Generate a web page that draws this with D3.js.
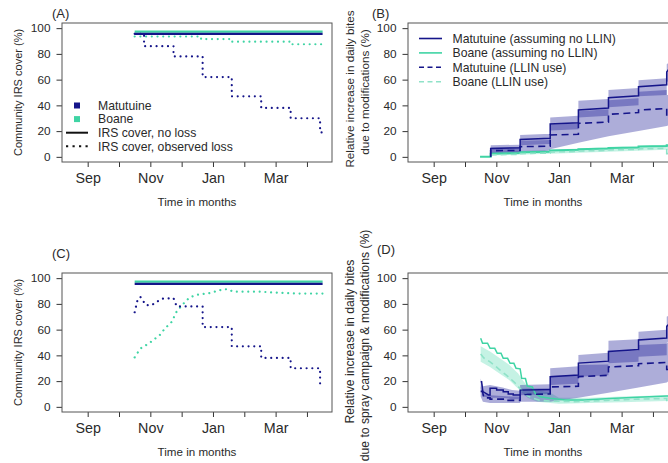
<!DOCTYPE html>
<html>
<head>
<meta charset="utf-8">
<script src="https://cdn.jsdelivr.net/npm/d3@7"></script>
<style>
  body { margin: 0; background: #fff; }
  svg { display: block; font-family: "Liberation Sans", Arial, sans-serif; }
</style>
</head>
<body>
<div id="chart"></div>
<script>
var width = 668,
  height = 463;

// time axis in months from September (0 = Sep, 7 = Apr)
var monthTicks = [0, 1, 2, 3, 4, 5, 6, 7];
var monthLabels = ["Sep", "", "Nov", "", "Jan", "", "Mar", ""];
var yTicks = [0, 20, 40, 60, 80, 100];

// (A) community IRS cover
var matNoLossA = [[1.5, 95.6], [7.5, 95.6]];
var boaNoLossA = [[1.5, 97.3], [7.5, 97.3]];
var matObsA = [[1.5, 95.6], [1.8, 95.6], [1.8, 86], [2.74, 86], [2.74, 78], [3.67, 78], [3.67, 62],
  [4.6, 62], [4.6, 47], [5.54, 47], [5.54, 38], [6.48, 38], [6.48, 30], [7.42, 30], [7.42, 19], [7.5, 19]];
var boaObsA = [[1.5, 93.5], [3.62, 93.5], [3.62, 91.5], [4.58, 91.5], [4.58, 89.5], [6.46, 89.5],
  [6.46, 87.5], [7.5, 87.5]];

// (C) community IRS cover incl. spray campaign
var matObsC = [[1.5, 73.5], [1.58, 82], [1.68, 85.5], [1.86, 79], [2.04, 79], [2.2, 81.5], [2.36, 84],
  [2.74, 84.5], [2.84, 78], [3.67, 78], [3.67, 62], [4.6, 62], [4.6, 47], [5.54, 47], [5.54, 38],
  [6.48, 38], [6.48, 30], [7.42, 30], [7.42, 18], [7.5, 18]];
var boaObsC = [[1.5, 38.5], [1.62, 43], [1.72, 46], [1.94, 49], [2.1, 52], [2.31, 56], [2.47, 61],
  [2.68, 66], [2.84, 74], [3.05, 80], [3.25, 85], [3.48, 87], [3.91, 88.5], [4.28, 91], [4.46, 91.5],
  [4.65, 89.5], [5.5, 89.5], [5.82, 89], [6.68, 88], [7.5, 88]];

// (B) relative increase in daily bites, modifications
var matNoLlinB = [[1.82, 0], [1.82, 6.5], [2.76, 7], [2.76, 13.5], [3.72, 14.5], [3.72, 25.5], [4.62, 26.5],
  [4.62, 36.4], [5.58, 38], [5.58, 46], [6.54, 47.5], [6.54, 54.5], [7.44, 56], [7.44, 66], [7.5, 68]];
var matLlinB = [[1.82, 0], [1.82, 4.8], [2.76, 5], [2.76, 7.9], [3.72, 8.3], [3.72, 17], [4.62, 17.5],
  [4.62, 26], [5.58, 27], [5.58, 33], [6.54, 34.5], [6.54, 36.4], [7.44, 37.5], [7.44, 31], [7.5, 31]];
var boaNoLlinB = [[1.48, 0], [1.82, 0], [1.82, 2.5], [2.76, 3], [2.76, 3.5], [3.72, 4], [3.72, 5],
  [4.62, 5.5], [4.62, 6], [5.58, 6.5], [5.58, 6.8], [6.54, 7.2], [6.54, 8], [7.44, 8.5], [7.44, 9], [7.5, 9]];
var boaLlinB = [[1.82, 1.5], [2.76, 2], [2.76, 2.5], [3.72, 3], [3.72, 3.8], [4.62, 4.2], [4.62, 4.6],
  [5.58, 5], [5.58, 5.4], [6.54, 5.8], [6.54, 6.2], [7.44, 6.6], [7.44, 2.5], [7.5, 2.5]];
// bands: [month, low, high]
var matNoLlinBandB = [[1.82, 3, 9], [2.76, 3.5, 9.5], [2.76, 9, 17], [3.72, 10, 18], [3.72, 20.5, 30.5],
  [4.62, 21.5, 32], [4.62, 30.5, 43.5], [5.58, 32, 45], [5.58, 38.5, 52], [6.54, 40, 53.5],
  [6.54, 47, 59.5], [7.44, 48, 61], [7.44, 58, 72], [7.5, 59, 73]];
var matLlinBandB = [[1.82, 2, 7], [2.76, 2.5, 7.5], [2.76, 3, 12.5], [3.72, 5, 13], [3.72, 6, 25],
  [4.62, 11, 26], [4.62, 11, 35.5], [5.58, 16, 37], [5.58, 16, 44], [6.54, 20, 45.5], [6.54, 20, 50.5],
  [7.44, 24, 52], [7.44, 24, 48], [7.5, 24.5, 48]];
var boaBandB = [[1.82, 1, 3.5], [3.72, 2.5, 5.5], [5.58, 4, 7.5], [7.44, 5.5, 9.5], [7.5, 5.5, 9.5]];

// (D) relative increase in daily bites, spray campaign & modifications
var matNoLlinD = [[1.5, 19.5], [1.53, 19.5], [1.57, 11.8], [1.75, 9.2], [1.8, 9.2], [1.8, 14.4], [2.01, 14.4],
  [2.01, 13.1], [2.22, 13.1], [2.22, 11.8], [2.38, 11.8], [2.38, 10], [2.54, 10], [2.54, 9.2], [2.76, 9.2],
  [2.76, 13], [3.72, 13.5], [3.72, 23.4], [4.62, 24.8], [4.62, 34], [5.58, 35.5], [5.58, 43],
  [6.54, 44.5], [6.54, 52], [7.44, 53.5], [7.44, 62.5], [7.5, 64]];
var matLlinD = [[1.5, 12], [1.56, 12], [1.6, 7], [1.8, 7], [1.8, 6], [2.3, 6], [2.3, 5], [2.76, 5],
  [2.76, 9.5], [3.72, 10], [3.72, 15.5], [4.62, 16], [4.62, 23.5], [5.58, 24.5], [5.58, 31], [6.54, 32],
  [6.54, 33.5], [7.44, 34.5], [7.44, 29], [7.5, 29]];
var boaNoLlinD = [[1.5, 53.3], [1.56, 49.4], [1.72, 49.4], [1.8, 45.5], [1.95, 45.5], [2.03, 41.6],
  [2.15, 41.6], [2.22, 37.7], [2.36, 37.7], [2.44, 33.8], [2.56, 33.8], [2.63, 30], [2.76, 29.5],
  [2.81, 22.2], [2.93, 22], [2.99, 16.2], [3.15, 15.5], [3.24, 10.5], [3.4, 7.9], [3.72, 6.6], [4.2, 5.3],
  [4.8, 5.3], [5.2, 6], [5.8, 6.6], [6.5, 7.5], [7.44, 8.4], [7.5, 8.4]];
var boaLlinD = [[1.5, 41], [1.6, 38], [1.8, 35], [2.0, 31], [2.12, 28.6], [2.3, 25], [2.44, 22.2],
  [2.6, 18.5], [2.7, 15.7], [2.86, 11.8], [3.0, 8.5], [3.2, 6.5], [3.4, 5], [3.72, 4.5], [4.5, 4],
  [5.5, 5], [6.5, 6], [7.44, 6.5], [7.44, 2.5], [7.5, 2.5]];
var matNoLlinBandD = [[1.5, 14, 22], [1.57, 8, 16], [1.8, 7, 17], [2.2, 7, 15], [2.5, 6, 13], [2.76, 6, 12.5],
  [2.76, 9, 17], [3.72, 10, 17.5], [3.72, 17, 30], [4.62, 18, 31.5], [4.62, 23.4, 40.3], [5.58, 24.5, 42],
  [5.58, 33.8, 51.4], [6.54, 35, 52.5], [6.54, 39, 58.4], [7.44, 40, 60], [7.44, 50, 70], [7.5, 51, 71]];
var matLlinBandD = [[1.5, 8, 16], [1.57, 4, 10], [1.8, 3, 9], [2.5, 3, 8], [2.76, 3, 8], [2.76, 4, 14],
  [3.72, 4, 14.5], [3.72, 4, 24], [4.62, 7, 24.5], [4.62, 7, 32.5], [5.58, 11, 33], [5.58, 11, 42.9],
  [6.54, 15, 43.5], [6.54, 15, 48], [7.44, 19, 49], [7.44, 19, 50], [7.5, 20, 50]];
var boaBandD = [[1.5, 35, 47], [1.8, 31, 43], [2.1, 26, 38], [2.4, 21, 33], [2.7, 14, 26], [2.86, 10, 20],
  [3.0, 7, 16], [3.3, 4, 13], [3.72, 3, 11], [4.0, 2.5, 7], [5, 3, 7], [6, 3.5, 8], [7.44, 4.5, 9], [7.5, 4.5, 9]];

var navy = "#15158a",
  teal = "#3fd4a4",
  tealLight = "#8fe2c8",
  ink = "#2a2a2a";

var svg = d3
  .select("#chart")
  .append("svg")
  .attr("width", width)
  .attr("height", height);

var boxW = 270,
  boxH = 139;

function makePanel(id, left, top, tag, tagPos, yLabel, yLabelX, yLabelY, yLabelSize) {
  var x = d3.scaleLinear().domain([-0.82, 7.8]).range([left, left + boxW]);
  var y = d3.scaleLinear().domain([-4, 104]).range([top + boxH, top]);

  svg.append("clipPath").attr("id", "clip" + id)
    .append("rect").attr("x", left).attr("y", top).attr("width", boxW).attr("height", boxH);

  var g = svg.append("g");
  var plot = g.append("g").attr("clip-path", "url(#clip" + id + ")");

  var yAxis = g.append("g")
    .attr("transform", "translate(" + left + ",0)")
    .call(d3.axisLeft(y).tickValues(yTicks).tickSize(5.5).tickPadding(6));
  yAxis.selectAll("text").style("font-size", "11.8px").attr("fill", ink);

  var xAxis = g.append("g")
    .attr("transform", "translate(0," + (top + boxH) + ")")
    .call(d3.axisBottom(x).tickValues(monthTicks).tickSize(5).tickFormat(function(d, i) {
      return monthLabels[i];
    }));
  xAxis.selectAll("text").attr("y", 21).attr("dy", null).style("font-size", "14.3px").attr("fill", ink);

  g.selectAll(".domain").remove();
  g.selectAll(".tick line").attr("stroke", "#333");

  g.append("rect")
    .attr("x", left).attr("y", top).attr("width", boxW).attr("height", boxH)
    .attr("fill", "none").attr("stroke", "#555").attr("stroke-width", 1);

  g.append("text")
    .attr("x", left + boxW / 2).attr("y", top + boxH + 44)
    .attr("text-anchor", "middle").style("font-size", "11.6px").attr("fill", ink)
    .text("Time in months");

  yLabel.forEach(function(txt, i) {
    g.append("text")
      .attr("transform", "translate(" + yLabelX[i] + "," + yLabelY[i] + ") rotate(-90)")
      .attr("text-anchor", "middle").style("font-size", yLabelSize + "px").attr("fill", ink)
      .text(txt);
  });

  g.append("text")
    .attr("x", tagPos[0]).attr("y", tagPos[1])
    .style("font-size", "13px").attr("fill", ink)
    .text(tag);

  return { x: x, y: y, plot: plot };
}

function drawLine(p, data, color, w, dash) {
  var ln = d3.line().x(d => p.x(d[0])).y(d => p.y(d[1]));
  var path = p.plot.append("path")
    .attr("d", ln(data))
    .attr("fill", "none")
    .attr("stroke", color)
    .attr("stroke-width", w);
  if (dash == "dot") {
    path.attr("stroke-dasharray", "0.01,5.7").attr("stroke-linecap", "round");
  } else if (dash) {
    path.attr("stroke-dasharray", dash);
  }
}

function drawBand(p, data, color, op) {
  var ar = d3.area().x(d => p.x(d[0])).y0(d => p.y(d[1])).y1(d => p.y(d[2]));
  p.plot.append("path").attr("d", ar(data)).attr("fill", color).attr("fill-opacity", op);
}

// panel A
var pA = makePanel("A", 62, 23, "(A)", [52, 17.5], ["Community IRS cover (%)"], [22], [92.5], 11);
drawLine(pA, boaNoLossA, teal, 2.3);
drawLine(pA, matNoLossA, navy, 2.3);
drawLine(pA, boaObsA, teal, 2.2, "dot");
drawLine(pA, matObsA, navy, 2.2, "dot");

// legend A
var legA = svg.append("g").style("font-size", "12.2px").attr("fill", ink);
var legAItems = ["Matutuine", "Boane", "IRS cover, no loss", "IRS cover, observed loss"];
legAItems.forEach(function(txt, i) {
  var yy = 105.5 + i * 13.6;
  if (i < 2) {
    legA.append("rect").attr("x", 74).attr("y", yy - 3).attr("width", 6).attr("height", 6)
      .attr("fill", i == 0 ? navy : teal);
  } else {
    var l = legA.append("line").attr("x1", 66).attr("x2", 88).attr("y1", yy).attr("y2", yy)
      .attr("stroke", "#111").attr("stroke-width", 2);
    if (i == 3) l.attr("stroke-dasharray", "2.2,4.3");
  }
  legA.append("text").attr("x", 98).attr("y", yy).attr("dy", "0.36em").text(txt);
});

// panel B
var pB = makePanel("B", 408, 23, "(B)", [372, 17.5],
  ["Relative increase in daily bites", "due to modifications (%)"], [354, 368.5], [89, 92], 11.7);
drawBand(pB, boaBandB, teal, 0.3);
drawBand(pB, matNoLlinBandB, "#1c1c96", 0.36);
drawBand(pB, matLlinBandB, "#1c1c96", 0.36);
drawLine(pB, boaNoLlinB, teal, 2);
drawLine(pB, boaLlinB, tealLight, 1.6, "6,4");
drawLine(pB, matNoLlinB, navy, 1.5);
drawLine(pB, matLlinB, navy, 1.6, "7,4.5");

var legB = svg.append("g").style("font-size", "12.2px").attr("fill", ink);
var legBItems = ["Matutuine (assuming no LLIN)", "Boane (assuming no LLIN)", "Matutuine (LLIN use)", "Boane (LLIN use)"];
var legBColors = [navy, teal, navy, tealLight];
var legBDash = [null, null, "5,3.5", "5,3.5"];
legBItems.forEach(function(txt, i) {
  var yy = 38.5 + i * 14.4;
  legB.append("line").attr("x1", 419).attr("x2", 442).attr("y1", yy).attr("y2", yy)
    .attr("stroke", legBColors[i]).attr("stroke-width", 1.6)
    .attr("stroke-dasharray", legBDash[i]);
  legB.append("text").attr("x", 452.5).attr("y", yy).attr("dy", "0.36em").text(txt);
});

// panel C
var pC = makePanel("C", 62, 273, "(C)", [52, 257.5], ["Community IRS cover (%)"], [22], [342.5], 11);
drawLine(pC, boaNoLossA, teal, 2.3);
drawLine(pC, matNoLossA, navy, 2.3);
drawLine(pC, boaObsC, teal, 2.2, "dot");
drawLine(pC, matObsC, navy, 2.2, "dot");

// panel D
var pD = makePanel("D", 408, 273, "(D)", [377, 254],
  ["Relative increase in daily bites", "due to spray campaign & modifications (%)"], [354, 368.5], [341.5, 345.5], 12.2);
drawBand(pD, boaBandD, teal, 0.3);
drawBand(pD, matNoLlinBandD, "#1c1c96", 0.36);
drawBand(pD, matLlinBandD, "#1c1c96", 0.36);
drawLine(pD, boaNoLlinD, teal, 1.5);
drawLine(pD, boaLlinD, tealLight, 1.6, "6,4");
drawLine(pD, matNoLlinD, navy, 1.5);
drawLine(pD, matLlinD, navy, 1.6, "7,4.5");
</script>
</body>
</html>
